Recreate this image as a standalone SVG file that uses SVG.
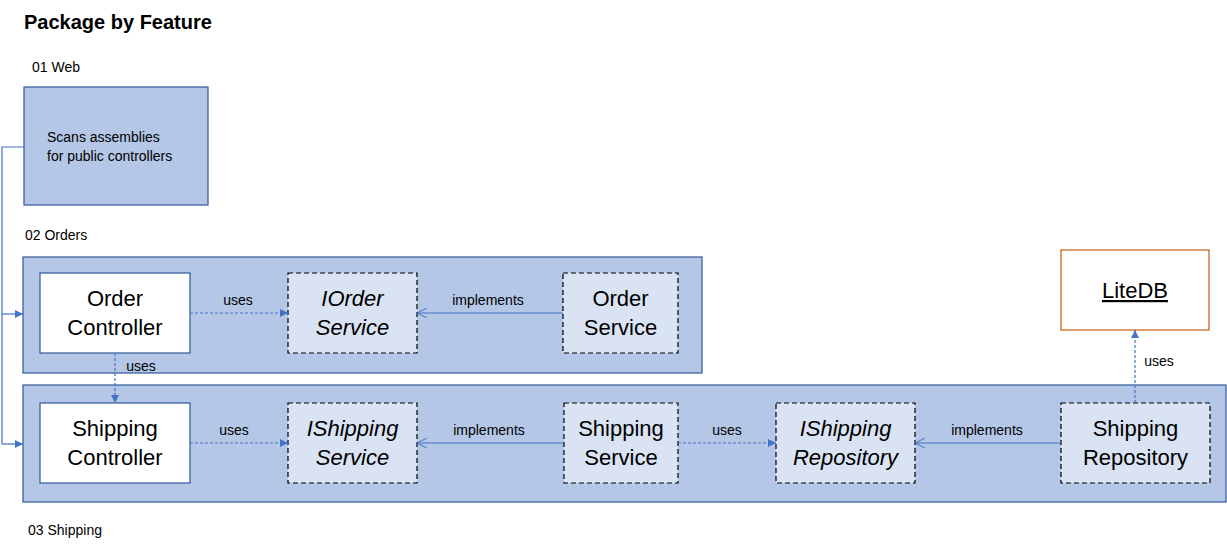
<svg xmlns="http://www.w3.org/2000/svg" width="1227" height="549" viewBox="0 0 1227 549">
<style>
text{font-family:"Liberation Sans",Arial,sans-serif;fill:#000}
.title{font-size:20px;font-weight:bold}
.lbl{font-size:14px}
.node{font-size:22px;text-anchor:middle}
.it{font-style:italic}
.edge{font-size:14px;text-anchor:middle}
.pkg{fill:#b4c7e7;stroke:#2f5597;stroke-width:1.2}
.cls{fill:#ffffff;stroke:#2f5597;stroke-width:1.2}
.ifc{fill:#dae3f3;stroke:#000;stroke-width:1.2;stroke-dasharray:5,3}
.c{fill:none;stroke:#4472c4;stroke-width:1.2}
.d{stroke-dasharray:3,2}
</style>
<defs>
<marker id="fa" viewBox="0 0 10 10" refX="10" refY="5" markerWidth="8" markerHeight="8" markerUnits="userSpaceOnUse" orient="auto"><path d="M0,0 L10,5 L0,10 z" fill="#4472c4"/></marker>
<marker id="oa" viewBox="0 0 10 10" refX="10" refY="5" markerWidth="10" markerHeight="10" markerUnits="userSpaceOnUse" orient="auto"><path d="M0,0 L10,5 L0,10" fill="none" stroke="#4472c4" stroke-width="1"/></marker>
</defs>
<text class="title" x="24" y="29">Package by Feature</text>
<text class="lbl" x="32" y="72">01 Web</text>
<text class="lbl" x="25" y="240">02 Orders</text>
<text class="lbl" x="28" y="535">03 Shipping</text>

<g id="web">
<rect class="pkg" x="24" y="87" width="184" height="118"/>
<text class="lbl" x="47" y="142">Scans assemblies</text>
<text class="lbl" x="47" y="161">for public controllers</text>
</g>
<g id="orders">
<rect class="pkg" x="23" y="257" width="679" height="116"/>
</g>
<g id="shipping">
<rect class="pkg" x="23" y="385" width="1203" height="117"/>
</g>
<g id="orderController">
<rect class="cls" x="40" y="273" width="150" height="80"/>
<text class="node" x="115" y="306">Order</text>
<text class="node" x="115" y="335">Controller</text>
</g>
<g id="iOrderService">
<rect class="ifc" x="288" y="273" width="129" height="80"/>
<text class="node it" x="352.500" y="306">IOrder</text>
<text class="node it" x="352.500" y="335">Service</text>
</g>
<g id="orderService">
<rect class="ifc" x="563" y="273" width="115" height="80"/>
<text class="node" x="620.500" y="306">Order</text>
<text class="node" x="620.500" y="335">Service</text>
</g>
<g id="shippingController">
<rect class="cls" x="40" y="403" width="150" height="80"/>
<text class="node" x="115" y="436">Shipping</text>
<text class="node" x="115" y="465">Controller</text>
</g>
<g id="iShippingService">
<rect class="ifc" x="288" y="403" width="129" height="80"/>
<text class="node it" x="352.500" y="436">IShipping</text>
<text class="node it" x="352.500" y="465">Service</text>
</g>
<g id="shippingService">
<rect class="ifc" x="564" y="403" width="114" height="80"/>
<text class="node" x="621" y="436">Shipping</text>
<text class="node" x="621" y="465">Service</text>
</g>
<g id="iShippingRepository">
<rect class="ifc" x="776" y="403" width="139" height="80"/>
<text class="node it" x="845.500" y="436">IShipping</text>
<text class="node it" x="845.500" y="465">Repository</text>
</g>
<g id="shippingRepository">
<rect class="ifc" x="1061" y="403" width="149" height="80"/>
<text class="node" x="1135.500" y="436">Shipping</text>
<text class="node" x="1135.500" y="465">Repository</text>
</g>
<g id="liteDB">
<rect x="1061" y="250" width="148" height="80" fill="#fff" stroke="#c55a11" stroke-width="1.2"/>
<text class="node" x="1135" y="298" text-decoration="underline">LiteDB</text>
</g>

<g id="connectors">
<path class="c" d="M24,147 H2 V444"/>
<path class="c" d="M2,314 H23" marker-end="url(#fa)"/>
<path class="c" d="M2,444 H23" marker-end="url(#fa)"/>
<path class="c d" d="M190,313 H288" marker-end="url(#fa)"/>
<text class="edge" x="238" y="305">uses</text>
<path class="c" d="M563,313 H417" marker-end="url(#oa)"/>
<text class="edge" x="488" y="305">implements</text>
<path class="c d" d="M115,353 V403" marker-end="url(#fa)"/>
<text class="edge" x="141" y="371">uses</text>
<path class="c d" d="M190,443 H288" marker-end="url(#fa)"/>
<text class="edge" x="234" y="435">uses</text>
<path class="c" d="M564,443 H417" marker-end="url(#oa)"/>
<text class="edge" x="489" y="435">implements</text>
<path class="c d" d="M678,443 H776" marker-end="url(#fa)"/>
<text class="edge" x="727" y="435">uses</text>
<path class="c" d="M1061,443 H915" marker-end="url(#oa)"/>
<text class="edge" x="987" y="435">implements</text>
<path class="c d" d="M1135,403 V330" marker-end="url(#fa)"/>
<text class="edge" x="1159" y="366">uses</text>
</g>
</svg>
